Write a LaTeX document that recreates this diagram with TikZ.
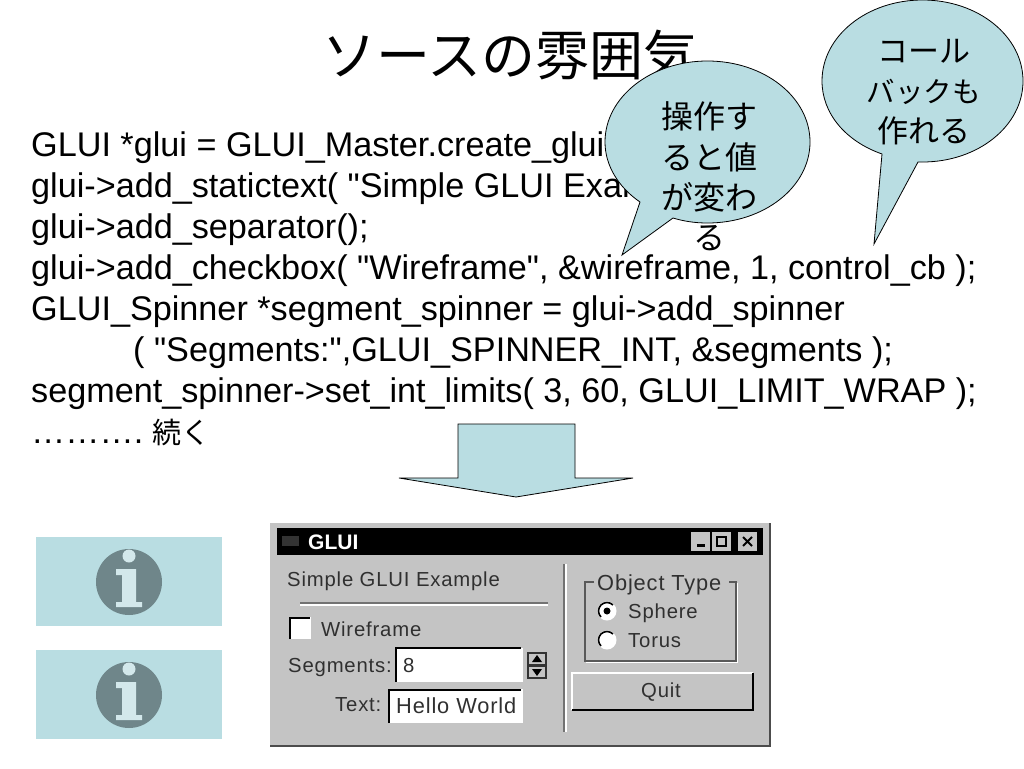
\documentclass[tikz,border=0pt]{standalone}
\usepackage{fontspec}
\newfontfamily\bodyfont{Liberation Sans}
\setmainfont{Liberation Sans}
\newfontfamily\cjk{Noto Sans CJK JP}
\newfontfamily\guifont[LetterSpace=4]{Liberation Sans}
\definecolor{callfill}{HTML}{B9DDE2}
\definecolor{icondark}{HTML}{6F868A}
\definecolor{iconlight}{HTML}{D3E8EB}
\definecolor{wingray}{HTML}{C4C4C4}
\definecolor{wintext}{HTML}{303030}
\tikzset{
  body/.style={anchor=base west,inner sep=0pt,font=\bodyfont\fontsize{34.2}{36}\selectfont},
  calltext/.style={anchor=center,inner sep=0pt,align=center,font=\cjk\fontsize{32}{40.4}\selectfont},
  calltextb/.style={anchor=center,inner sep=0pt,align=center,font=\cjk\fontsize{31}{40}\selectfont},
  shapeline/.style={draw=black,fill=callfill,line width=0.8pt,line join=miter},
  gui/.style={anchor=base west,inner sep=0pt,text=wintext,font=\guifont\fontsize{20.3}{22}\selectfont},
  guibig/.style={gui,font=\guifont\fontsize{21.8}{24}\selectfont},
  lightln/.style={draw=white,line width=1.2pt},
  midln/.style={draw=gray!90!black,line width=1.4pt}
}
\begin{document}
\begin{tikzpicture}[x=1pt,y=-1pt]
\useasboundingbox (0,0) rectangle (1024,768);
\fill[white] (0,0) rectangle (1024,768);
% title
\node[anchor=center,inner sep=0pt,font=\cjk\fontsize{54}{56}\selectfont] (title) at (510,55) {ソースの雰囲気};
% body text
\node[body] (l1) at (31,156) {GLUI *glui = GLUI\_Master.create\_glui( "GLUI" );};
\node[body] (l2) at (31,197) {glui->add\_statictext( "Simple GLUI Example" );};
\node[body] (l3) at (31,238) {glui->add\_separator();};
\node[body] (l4) at (31,279) {glui->add\_checkbox( "Wireframe", \&wireframe, 1, control\_cb );};
\node[body] (l5) at (31,320) {GLUI\_Spinner *segment\_spinner = glui->add\_spinner};
\node[body] (l6) at (133,361) {( "Segments:",GLUI\_SPINNER\_INT, \&segments );};
\node[body] (l7) at (31,402) {segment\_spinner->set\_int\_limits( 3, 60, GLUI\_LIMIT\_WRAP );};
\node[body] (l8) at (31,443) {……….\hspace{-3pt} {\cjk\fontsize{29}{30}\selectfont 続く}};
% callout 1
\path[shapeline] (622,255) -- (640,202)
  .. controls (618,187) and (605,165) .. (605,142)
  .. controls (605,97) and (651,61) .. (707.5,61)
  .. controls (764,61) and (810,97) .. (810,142)
  .. controls (810,187) and (764,223) .. (707.5,223)
  .. controls (694,223) and (683,221) .. (673,218) -- cycle;
\node[calltext] (c1) at (709,176.5) {操作す\\ると値\\が変わ\\る};
% callout 2
\path[shapeline] (874,244) -- (882,154)
  .. controls (845,141) and (822,113) .. (822,81)
  .. controls (822,36) and (867,0) .. (922.5,0)
  .. controls (978,0) and (1023,36) .. (1023,81)
  .. controls (1023,126) and (978,162) .. (922.5,162)
  .. controls (921,162) and (919,162) .. (918,162) -- cycle;
\node[calltextb] (c2) at (923.5,92) {コール\\{\fontsize{28.5}{40}\selectfont バックも}\\作れる};
% block arrow
\path[shapeline] (458,424) -- (575,424) -- (575,478) -- (633,478) -- (516,497) -- (399,478) -- (458,478) -- cycle;
% info icons
\foreach \dy in {0,113}{
\begin{scope}[shift={(0,\dy)}]
  \fill[callfill] (36,537) rectangle (222,626);
  \fill[icondark] (129,582) circle[radius=33];
  \fill[iconlight] (129,556) circle[radius=6.5];
  \fill[iconlight] (116,569) -- (136,569) -- (136,602) -- (142,602) -- (142,607) -- (116,607) -- (116,602) -- (122,602) -- (122,575) -- (116,575) -- cycle;
\end{scope}
}
% window
\fill[wingray] (270,523) rectangle (770,746);
\draw[black!70,line width=1.5pt] (270,746) -- (770,746) -- (770,523);
\fill[black] (277,528) rectangle (763,555);
\node[anchor=base west,inner sep=0pt,text=white,font=\bfseries\fontsize{21}{21}\selectfont] (wt) at (308,549) {GLUI};
\fill[gray!40!black] (282,536) rectangle (299,546);
% window buttons
\fill[wingray] (691,532) rectangle (710,551);
\fill[wingray] (712,532) rectangle (731,551);
\fill[wingray] (738,532) rectangle (757,551);
\fill[black] (697,544) rectangle (705,547);
\draw[black,line width=1.5pt] (717,537) rectangle (726,546);
\draw[black,line width=2pt] (743,537) -- (752,546) (752,537) -- (743,546);
% left pane
\node[gui] (g1) at (287,586) {Simple GLUI Example};
\draw[midln] (300,603) -- (548,603);
\draw[lightln] (300,605) -- (548,605);
\fill[white] (290,617) rectangle (311,639);
\draw[black,line width=1.5pt] (290,639) -- (290,618) -- (310,618);
\node[gui] (g2) at (321,636) {Wireframe};
\node[gui] (g3) at (288,672) {Segments:};
\fill[white] (396,648) rectangle (523,682);
\draw[black,line width=2pt] (396,682) -- (396,648) -- (521,648);
\node[gui] (g4) at (403,672) {8};
\fill[black!80] (527,652) rectangle (547,679);
\fill[wingray] (529,654) rectangle (545,664);
\fill[wingray] (529,667) rectangle (545,677);
\fill[black] (537,655) -- (542,662) -- (532,662) -- cycle;
\fill[black] (537,676) -- (542,669) -- (532,669) -- cycle;
\node[gui] (g5) at (335,711) {Text:};
\fill[white] (388,689) rectangle (523,723);
\draw[black,line width=2pt] (389,723) -- (389,690) -- (521,690);
\node[guibig] (g6) at (396,713) {Hello World};
% divider
\draw[midln] (564,564) -- (564,732);
\draw[lightln] (566,564) -- (566,732);
% group
\draw[gray!70!black,line width=1.2pt] (594,582) -- (585,582) -- (585,661) -- (736,661) -- (736,582) -- (729,582);
\draw[white,line width=1pt] (586,662) -- (737,662) -- (737,583);
\node[guibig] (g7) at (597,590) {Object Type};
\foreach \ry in {0,29}{
\begin{scope}[shift={(0,\ry)}]
\fill[white] (607,611) circle[radius=9.5];
\draw[black,line width=1.6pt] (601,617) .. controls (597.7,613.7) and (597.7,608.3) .. (601,605) .. controls (604.3,601.7) and (609.7,601.7) .. (613,605);
\end{scope}
}
\fill[black] (607,611) circle[radius=3.5];
\node[gui] (g8) at (628,618) {Sphere};
\node[gui] (g9) at (628,647) {Torus};
% quit button
\fill[wingray] (572,673) rectangle (753,710);
\draw[white,line width=1.2pt] (572,710) -- (572,673) -- (753,673);
\draw[black,line width=1.8pt] (572,710) -- (753,710) -- (753,673);
\node[gui,anchor=base] (g10) at (661,697) {Quit};
\end{tikzpicture}
\end{document}
